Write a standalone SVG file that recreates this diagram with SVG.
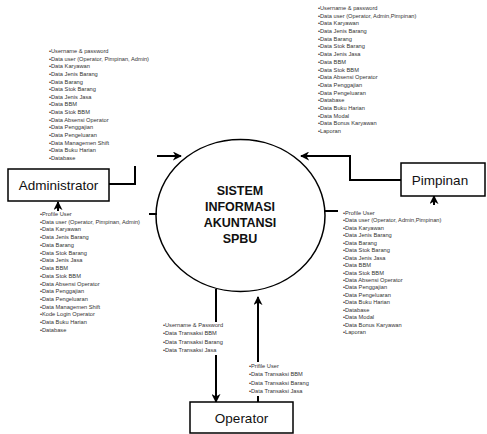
<svg xmlns="http://www.w3.org/2000/svg" width="487" height="434" viewBox="0 0 487 434">
<style>
.box{fill:#fff;stroke:#000;stroke-width:1.5}
.lbl{font-family:"Liberation Sans",Arial,sans-serif;font-size:13.5px;fill:#111;text-anchor:middle}
.ctr{font-family:"Liberation Sans",Arial,sans-serif;font-size:12.5px;font-weight:bold;fill:#111;text-anchor:middle}
.lst{font-family:"Liberation Sans",Arial,sans-serif;font-size:5.7px;fill:#333}
.ln{fill:none;stroke:#000;stroke-width:2}
</style>
<defs>
<marker id="ah" viewBox="0 0 10 10" refX="9" refY="5" markerWidth="9" markerHeight="9" markerUnits="userSpaceOnUse" orient="auto">
<path d="M0,0 L10,5 L0,10 L3,5 z" fill="#000"/>
</marker>
</defs>
<g id="connectors">
<polyline class="ln" points="109,184 135,184 135,166"/>
<line class="ln" x1="157" y1="156" x2="181" y2="156" marker-end="url(#ah)"/>
<line class="ln" x1="58" y1="211" x2="58" y2="202" marker-end="url(#ah)"/>
<line class="ln" x1="149" y1="214" x2="157" y2="214"/>
<line class="ln" x1="324" y1="211" x2="338" y2="211"/>
<polyline class="ln" points="401,180 350,180 350,156 301,156" marker-end="url(#ah)"/>
<line class="ln" x1="434" y1="205" x2="434" y2="196" marker-end="url(#ah)"/>
<line class="ln" x1="216" y1="289" x2="216" y2="322"/>
<line class="ln" x1="216" y1="355" x2="216" y2="402" marker-end="url(#ah)"/>
<line class="ln" x1="258" y1="402" x2="258" y2="396"/>
<line class="ln" x1="258" y1="362" x2="258" y2="297" marker-end="url(#ah)"/>
</g>
<g id="sistem">
<ellipse cx="240.5" cy="215.5" rx="84.5" ry="76" fill="none" stroke="#000" stroke-width="1.5"/>
<text class="ctr" x="240" y="194.5">SISTEM</text>
<text class="ctr" x="240" y="210.5">INFORMASI</text>
<text class="ctr" x="240" y="226.5">AKUNTANSI</text>
<text class="ctr" x="240" y="242.5">SPBU</text>
</g>
<g id="administrator">
<rect class="box" x="8" y="169" width="101" height="32"/>
<text class="lbl" x="58.5" y="189.8">Administrator</text>
</g>
<g id="pimpinan">
<rect class="box" x="401" y="163" width="84" height="33"/>
<text class="lbl" x="440" y="184.5">Pimpinan</text>
</g>
<g id="operator">
<rect class="box" x="190" y="402" width="103" height="31"/>
<text class="lbl" x="241.5" y="422.5">Operator</text>
</g>
<g id="labels">
<text class="lst" x="49" y="53">
<tspan x="49" dy="0">•Username &amp; password</tspan>
<tspan x="49" dy="7.64">•Data user (Operator, Pimpinan, Admin)</tspan>
<tspan x="49" dy="7.64">•Data Karyawan</tspan>
<tspan x="49" dy="7.64">•Data Jenis Barang</tspan>
<tspan x="49" dy="7.64">•Data Barang</tspan>
<tspan x="49" dy="7.64">•Data Stok Barang</tspan>
<tspan x="49" dy="7.64">•Data Jenis Jasa</tspan>
<tspan x="49" dy="7.64">•Data BBM</tspan>
<tspan x="49" dy="7.64">•Data Stok BBM</tspan>
<tspan x="49" dy="7.64">•Data Absensi Operator</tspan>
<tspan x="49" dy="7.64">•Data Penggajian</tspan>
<tspan x="49" dy="7.64">•Data Pengeluaran</tspan>
<tspan x="49" dy="7.64">•Data Managemen Shift</tspan>
<tspan x="49" dy="7.64">•Data Buku Harian</tspan>
<tspan x="49" dy="7.64">•Database</tspan>
</text>
<text class="lst" x="318" y="10">
<tspan x="318" dy="0">•Username &amp; password</tspan>
<tspan x="318" dy="7.69">•Data user (Operator, Admin,Pimpinan)</tspan>
<tspan x="318" dy="7.69">•Data Karyawan</tspan>
<tspan x="318" dy="7.69">•Data Jenis Barang</tspan>
<tspan x="318" dy="7.69">•Data Barang</tspan>
<tspan x="318" dy="7.69">•Data Stok Barang</tspan>
<tspan x="318" dy="7.69">•Data Jenis Jasa</tspan>
<tspan x="318" dy="7.69">•Data BBM</tspan>
<tspan x="318" dy="7.69">•Data Stok BBM</tspan>
<tspan x="318" dy="7.69">•Data Absensi Operator</tspan>
<tspan x="318" dy="7.69">•Data Penggajian</tspan>
<tspan x="318" dy="7.69">•Data Pengeluaran</tspan>
<tspan x="318" dy="7.69">•Database</tspan>
<tspan x="318" dy="7.69">•Data Buku Harian</tspan>
<tspan x="318" dy="7.69">•Data Modal</tspan>
<tspan x="318" dy="7.69">•Data Bonus Karyawan</tspan>
<tspan x="318" dy="7.69">•Laporan</tspan>
</text>
<text class="lst" x="40" y="216">
<tspan x="40" dy="0">•Profile User</tspan>
<tspan x="40" dy="7.73">•Data user (Operator, Pimpinan, Admin)</tspan>
<tspan x="40" dy="7.73">•Data Karyawan</tspan>
<tspan x="40" dy="7.73">•Data Jenis Barang</tspan>
<tspan x="40" dy="7.73">•Data Barang</tspan>
<tspan x="40" dy="7.73">•Data Stok Barang</tspan>
<tspan x="40" dy="7.73">•Data Jenis Jasa</tspan>
<tspan x="40" dy="7.73">•Data BBM</tspan>
<tspan x="40" dy="7.73">•Data Stok BBM</tspan>
<tspan x="40" dy="7.73">•Data Absensi Operator</tspan>
<tspan x="40" dy="7.73">•Data Penggajian</tspan>
<tspan x="40" dy="7.73">•Data Pengeluaran</tspan>
<tspan x="40" dy="7.73">•Data Managemen Shift</tspan>
<tspan x="40" dy="7.73">•Kode Login Operator</tspan>
<tspan x="40" dy="7.73">•Data Buku Harian</tspan>
<tspan x="40" dy="7.73">•Database</tspan>
</text>
<text class="lst" x="343" y="215">
<tspan x="343" dy="0">•Profile User</tspan>
<tspan x="343" dy="7.44">•Data user (Operator, Admin,Pimpinan)</tspan>
<tspan x="343" dy="7.44">•Data Karyawan</tspan>
<tspan x="343" dy="7.44">•Data Jenis Barang</tspan>
<tspan x="343" dy="7.44">•Data Barang</tspan>
<tspan x="343" dy="7.44">•Data Stok Barang</tspan>
<tspan x="343" dy="7.44">•Data Jenis Jasa</tspan>
<tspan x="343" dy="7.44">•Data BBM</tspan>
<tspan x="343" dy="7.44">•Data Stok BBM</tspan>
<tspan x="343" dy="7.44">•Data Absensi Operator</tspan>
<tspan x="343" dy="7.44">•Data Penggajian</tspan>
<tspan x="343" dy="7.44">•Data Pengeluaran</tspan>
<tspan x="343" dy="7.44">•Data Buku Harian</tspan>
<tspan x="343" dy="7.44">•Database</tspan>
<tspan x="343" dy="7.44">•Data Modal</tspan>
<tspan x="343" dy="7.44">•Data Bonus Karyawan</tspan>
<tspan x="343" dy="7.44">•Laporan</tspan>
</text>
<text class="lst" x="163" y="327">
<tspan x="163" dy="0">•Username &amp; Password</tspan>
<tspan x="163" dy="8.4">•Data Transaksi BBM</tspan>
<tspan x="163" dy="8.4">•Data Transaksi Barang</tspan>
<tspan x="163" dy="8.4">•Data Transaksi Jasa</tspan>
</text>
<text class="lst" x="249" y="368">
<tspan x="249" dy="0">•Prifile User</tspan>
<tspan x="249" dy="8.4">•Data Transaksi BBM</tspan>
<tspan x="249" dy="8.4">•Data Transaksi Barang</tspan>
<tspan x="249" dy="8.4">•Data Transaksi Jasa</tspan>
</text>
</g>
</svg>
